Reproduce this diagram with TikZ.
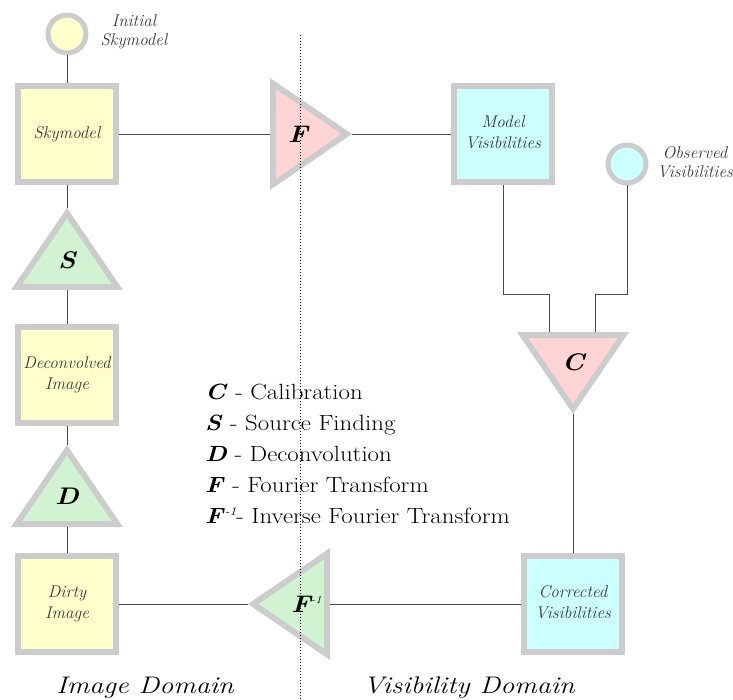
\documentclass[tikz,border=0pt]{standalone}
\usepackage{fontspec}
\usepackage{graphicx}
\definecolor{bgray}{HTML}{CCCCCC}
\definecolor{yel}{HTML}{FFFFCC}
\definecolor{cya}{HTML}{CCFFFF}
\definecolor{pnk}{HTML}{FFD4D4}
\definecolor{grn}{HTML}{D2F3D2}
\definecolor{lnk}{HTML}{4A4A4A}
\definecolor{txtg}{HTML}{3A3A3A}
\newcommand\ctxt[1]{\begin{tabular}{@{}c@{}}#1\end{tabular}}
\newcommand\wline[1]{\scalebox{1.13}[1]{#1}}
\newcommand\dline[1]{\scalebox{1.17}[1]{#1}}
% triangle: name, x, y (incentre), rotation, fill colour
\newcommand\tri[5]{%
  \begin{scope}[shift={(#2,#3)}, rotate=#4]
    \fill[bgray] (52.4,0) -- (-29.6,56) -- (-29.6,-56) -- cycle;
    \fill[#5, scale=0.797] (52.4,0) -- (-29.6,56) -- (-29.6,-56) -- cycle;
    \coordinate (#1-a) at (52.4,0);
    \coordinate (#1-b) at (-29.6,0);
  \end{scope}}
\begin{document}
\begin{tikzpicture}[x=1pt,y=-1pt,
  box/.style={draw=bgray, line width=6pt, minimum width=98pt, minimum height=96pt,
    inner sep=0pt, font=\fontsize{17}{21}\selectfont\itshape, text=txtg},
  circ/.style={circle, draw=bgray, line width=5pt, minimum size=38pt, inner sep=0pt},
  lbl/.style={font=\fontsize{17}{19}\selectfont\itshape, text=txtg, inner sep=0pt},
  tlet/.style={font=\fontsize{24}{28}\selectfont\bfseries\itshape, inner sep=0pt},
  leg/.style={font=\fontsize{22}{26}\selectfont, anchor=base west, inner sep=0pt},
  dom/.style={font=\fontsize{24}{28}\selectfont\itshape, anchor=base, inner sep=0pt},
  conn/.style={draw=lnk, line width=0.8pt}]
\useasboundingbox (0,0) rectangle (733,700);
\fill[white] (0,0) rectangle (733,700);

% nodes
\node[circ, fill=yel] (init) at (67,34) {};
\node[lbl] (initL) at (134,32) {\ctxt{Initial\\Skymodel}};
\node[box, fill=yel] (sky) at (67,134) {\ctxt{Skymodel}};
\node[box, fill=yel] (dec) at (67,375) {\ctxt{Deconvolved\\Image}};
\node[box, fill=yel] (dirty) at (67,604) {\ctxt{Dirty\\Image}};
\node[box, fill=cya] (mv) at (503,134) {\ctxt{Model\\Visibilities}};
\node[box, fill=cya] (cor) at (573,604) {\ctxt{Corrected\\Visibilities}};
\node[circ, fill=cya] (obs) at (627,164) {};
\node[lbl] (obsL) at (695,164) {\ctxt{Observed\\Visibilities}};

\tri{F}{299.6}{134}{0}{pnk}
\tri{Fi}{300.4}{604}{180}{grn}
\tri{C}{573}{361.6}{-90}{pnk}
\tri{S}{67}{260.4}{90}{grn}
\tri{D}{67}{497.4}{90}{grn}

\node[tlet] (Fl) at (298,134) {\wline{F}};
\node[tlet] (Cl) at (573,362) {\wline{C}};
\node[tlet] (Sl) at (67,260) {\wline{S}};
\node[tlet] (Dl) at (67,496) {\wline{D}};
\node[tlet, anchor=base west] (Fil) at (291,612) {\wline{F\raisebox{9pt}{\normalfont\itshape\fontsize{11}{12}\selectfont -1}}};

% connectors
\coordinate (j1) at (549,294);
\coordinate (j2) at (595,294);
\coordinate (cin1) at (549,332);
\coordinate (cin2) at (595,332);
\draw[conn] (init.south) -- (sky.north);
\draw[conn] (sky.south) -- (S-a);
\draw[conn] (S-b) -- (dec.north);
\draw[conn] (dec.south) -- (D-a);
\draw[conn] (D-b) -- (dirty.north);
\draw[conn] (sky.east) -- (F-b);
\draw[conn] (F-a) -- (mv.west);
\draw[conn] (mv.south) |- (j1) -- (cin1);
\draw[conn] (obs.south) |- (j2) -- (cin2);
\draw[conn] (C-a) -- (cor.north);
\draw[conn] (cor.west) -- (Fi-b);
\draw[conn] (Fi-a) -- (dirty.east);

% legend
\node[leg] (l1) at (205,399) {\wline{\textbf{\textit{C}} - Calibration}};
\node[leg] (l2) at (205,430) {\wline{\textbf{\textit{S}} - Source Finding}};
\node[leg] (l3) at (205,461) {\wline{\textbf{\textit{D}} - Deconvolution}};
\node[leg] (l4) at (205,492) {\wline{\textbf{\textit{F}} - Fourier Transform}};
\node[leg] (l5) at (205,523) {\wline{\textbf{\textit{F}}\raisebox{8pt}{\itshape\fontsize{12}{13}\selectfont -1}- Inverse Fourier Transform}};

% domains
\node[dom] (imd) at (145,693) {\dline{Image Domain}};
\node[dom] (vid) at (469,693) {\dline{Visibility Domain}};

% divider
\coordinate (dtop) at (300,35);
\coordinate (dbot) at (300,700);
\draw[line width=0.6pt, dash pattern=on 1pt off 2pt] (dtop) -- (dbot);
\end{tikzpicture}
\end{document}
